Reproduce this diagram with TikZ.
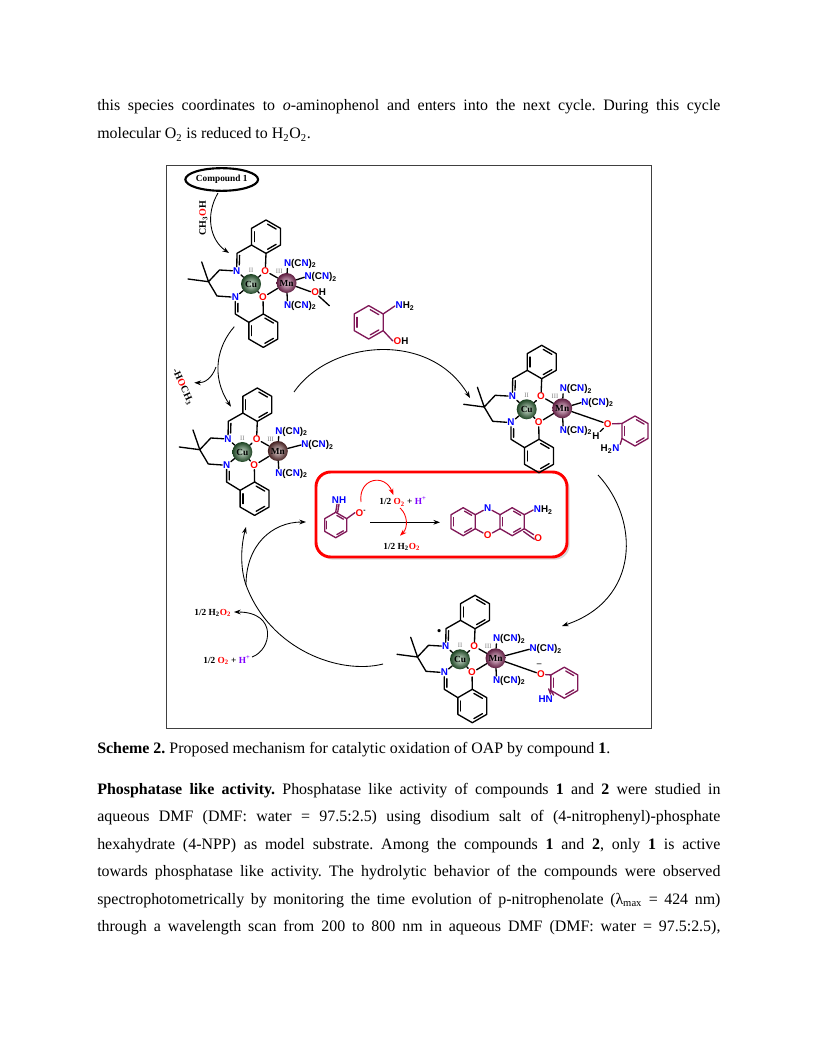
\documentclass[tikz,border=0pt]{standalone}
\usepackage{fontspec}
\setmainfont{Liberation Serif}
\setsansfont{Liberation Sans}
\usetikzlibrary{arrows.meta,calc,shadows,shapes.geometric}
\definecolor{nblue}{RGB}{0,0,255}
\definecolor{ored}{RGB}{255,0,0}
\definecolor{plum}{RGB}{128,24,88}
\definecolor{hviolet}{RGB}{128,0,255}
\definecolor{cugreen}{RGB}{50,120,60}
\definecolor{mnpink}{RGB}{170,50,115}
\definecolor{mnbrown}{RGB}{125,60,60}
\tikzset{
  bond/.style={line width=1pt,line join=round,line cap=round},
  curve/.style={line width=0.65pt,-{Stealth[length=5pt,width=3.6pt]}},
  redcurve/.style={curve,ored},
  atom/.style={font=\sffamily\bfseries\fontsize{7.4}{8}\selectfont,inner sep=0.4pt},
  ligand/.style={atom,anchor=west,inner sep=0pt},
  metal/.style={circle,minimum size=15bp,inner sep=0pt,font=\bfseries\fontsize{7}{8}\selectfont},
  oxid/.style={font=\fontsize{5}{6}\selectfont,text=gray,inner sep=0pt},
  reagent/.style={font=\bfseries\fontsize{7}{8}\selectfont,inner sep=0pt},
  bodyline/.style={anchor=base west,inner sep=0pt,font=\fontsize{12}{14}\selectfont\frenchspacing},
}
\newcommand{\nligand}{{\color{nblue}N}(C{\color{nblue}N})\textsubscript{2}}
\newcommand{\benz}[5]{%
  \foreach \a in {30,90,...,330}{\coordinate (#1\a) at ($(#2,#3)+(\a:#4)$);}
  \draw[bond,#5] (#130)--(#190)--(#1150)--(#1210)--(#1270)--(#1330)--cycle;
  \foreach \a in {270,30,150}{\draw[bond,#5] ($(#2,#3)+(\a+7:0.76*#4)$)--($(#2,#3)+(\a+53:0.76*#4)$);}
}
% Cu/Mn core, placed by the Cu centre
\newcommand{\core}[4]{%
  \begin{scope}[shift={(#2,#3)},name prefix=#1-]
    \node[metal,inner color=cugreen!25!white,outer color=cugreen!55!black] (cu) at (0,0) {Cu};
    \node[metal,inner color=#4!25!white,outer color=#4!55!black] (mn) at (35.5,-1) {Mn};
    \node[atom,text=ored] (o1) at (14.3,-13) {O};
    \node[atom,text=ored] (o2) at (12,13.3) {O};
    \node[atom,text=nblue] (n1) at (-14.3,-13) {N};
    \node[atom,text=nblue] (n2) at (-15.7,13.3) {N};
    \node[oxid] (two) at (0,-13.7) {II};
    \node[oxid] (three) at (28.3,-13) {III};
    \benz{u}{15}{-47.3}{16.7}{black}
    \benz{d}{12.3}{46.7}{16.7}{black}
    \coordinate (c1) at (-14,-30.7);
    \coordinate (c2) at (-15.7,30);
    \coordinate (c3) at (-31.5,-14);
    \coordinate (c4) at (-42.5,-2.3);
    \coordinate (c5) at (-34,12);
    \coordinate (me1) at (-49.3,-22);
    \coordinate (me2) at (-63,-5);
    \draw[bond] (u90)--(o1) (u150)--(c1)--(n1) (d270)--(o2) (d210)--(c2)--(n2);
    \draw[bond] ($(c1)+(2.6,2)$)--($(n1)+(2.6,-6)$) ($(c2)+(2.6,-2)$)--($(n2)+(2.6,6)$);
    \draw[bond] (n1)--(c3)--(c4)--(c5)--(n2) (c4)--(me1) (c4)--(me2);
    \draw[bond] (n1)--(cu) (n2)--(cu) (o1)--(cu) (o2)--(cu) (o1)--(mn) (o2)--(mn);
    \node[ligand] (lt) at (32.8,-20.3) {\nligand};
    \node[ligand] (lb) at (32.8,21.5) {\nligand};
    \draw[bond] (mn)--([xshift=2.7pt]lt.south west) (mn)--([xshift=2.7pt]lb.north west);
  \end{scope}
}
\begin{document}
\begin{tikzpicture}[x=0.75bp,y=-0.75bp]
  \useasboundingbox (0,0) rectangle (816,1056);
  % page text
  \node[bodyline] (line1) at (97,111) {\hbox to 467.4bp{this species coordinates to \textit{o}-aminophenol and enters into the next cycle. During this cycle}};
  \node[bodyline] (line2) at (97,139) {molecular O\textsubscript{2} is reduced to H\textsubscript{2}O\textsubscript{2}.};
  \node[bodyline] (caption) at (97,753) {\textbf{Scheme 2.} Proposed mechanism for catalytic oxidation of OAP by compound \textbf{1}.};
  \node[bodyline] (para1) at (97,794) {\hbox to 467.4bp{\textbf{Phosphatase like activity.} Phosphatase like activity of compounds \textbf{1} and \textbf{2} were studied in}};
  \node[bodyline] (para2) at (97,821.5) {\hbox to 467.4bp{aqueous DMF (DMF: water = 97.5:2.5) using disodium salt of (4-nitrophenyl)-phosphate}};
  \node[bodyline] (para3) at (97,849) {\hbox to 467.4bp{hexahydrate (4-NPP) as model substrate. Among the compounds \textbf{1} and \textbf{2}, only \textbf{1} is active}};
  \node[bodyline] (para4) at (97,876.5) {\hbox to 467.4bp{towards phosphatase like activity. The hydrolytic behavior of the compounds were observed}};
  \node[bodyline] (para5) at (97,904) {\hbox to 467.4bp{spectrophotometrically by monitoring the time evolution of p-nitrophenolate (λ\textsubscript{max} = 424 nm)}};
  \node[bodyline] (para6) at (97,931.5) {\hbox to 467.4bp{through a wavelength scan from 200 to 800 nm in aqueous DMF (DMF: water = 97.5:2.5),}};
  % frame and red box
  \draw[black!75,line width=0.6pt] (166,165) rectangle (651,728);
  \draw[ored,line width=2.2pt,rounded corners=11pt,fill=white,drop shadow={shadow xshift=2pt,shadow yshift=-2pt,fill=gray!60}] (316,472) rectangle (567,557);
  % four complexes
  \core{a}{251}{284}{mnpink}
  \core{b}{242.3}{452}{mnbrown}
  \core{c}{526.7}{409.3}{mnpink}
  \core{d}{460}{659.3}{mnpink}
  \node[ligand] (a-lr) at (304.3,277.3) {\nligand};
  \node[ligand] (b-lr) at (301,445) {\nligand};
  \node[ligand] (c-lr) at (581,402.7) {\nligand};
  \node[ligand] (d-lr) at (529.3,649.3) {\nligand};
  \foreach \m in {a,b,c,d}{\draw[bond] (\m-mn)--(\m-lr.west);}
  % bound methanol
  \node[atom] (meoh) at (318.7,291.7) {{\color{ored}O}H};
  \coordinate (meohc) at (329.3,305.7);
  \draw[bond] (a-mn)--(meoh.west) (meoh.south)--(meohc);
  % free aminophenol
  \benz{ap}{368.7}{322.3}{16.7}{plum}
  \node[atom] (apn) at (405,306) {{\color{nblue}N}H\textsubscript{2}};
  \node[atom] (apo) at (401,341) {{\color{ored}O}H};
  \draw[bond,plum] (ap330)--(apn.west) (ap30)--(apo.west);
  % bound aminophenol
  \node[atom,text=ored] (co) at (607.7,424) {O};
  \benz{cr}{635}{431}{15}{plum}
  \node[atom] (cn) at (610,449.3) {H\textsubscript{2}{\color{nblue}N}};
  \node[atom] (ch) at (596,435.7) {H};
  \draw[bond] (c-mn)--(co) (co)--(ch);
  \draw[bond,plum] (co)--(cr210) (cr150)--(cn.north east);
  % bound iminosemiquinone
  \node[atom,text=ored] (do) at (541,674.3) {O};
  \benz{dr}{564.3}{682.7}{15.5}{plum}
  \node[atom,text=nblue] (dn) at (545.7,699.3) {HN};
  \node[inner sep=0pt,font=\bfseries\fontsize{7}{8}\selectfont] (dm) at (539.3,665.5) {--};
  \node[inner sep=0pt,font=\fontsize{10}{10}\selectfont] (dot) at (439.3,633) {•};
  \draw[bond] (d-mn)--(do);
  \draw[bond,plum] (do)--(dr210) (dr150)--(dn.north east) ($(dr150)+(-2.2,-1.6)$)--($(dn.north east)+(-3,-1)$);
  % compound label
  \node[ellipse,draw,line width=1.6pt,minimum width=52bp,minimum height=17bp,inner sep=0pt,font=\bfseries\fontsize{7}{8}\selectfont] (cmpd) at (221.7,179.5) {Compound 1};
  \node[reagent,font=\bfseries\fontsize{7.5}{9}\selectfont,rotate=90] (meohlbl) at (203.3,218) {CH\textsubscript{3}{\color{ored}O}H};
  \node[reagent,font=\bfseries\fontsize{7.5}{9}\selectfont,rotate=-65] (lostlbl) at (182.7,387) {-H{\color{ored}O}CH\textsubscript{3}};
  % labels of the cycle
  \node[reagent] (cyh2o2) at (212.7,613) {1/2 H\textsubscript{2}{\color{ored}O\textsubscript{2}}};
  \node[reagent] (cyo2) at (227,660) {1/2 {\color{ored}O\textsubscript{2}} + {\color{hviolet}H\textsuperscript{+}}};
  % coordinates for the arrows
  \coordinate (s1) at (218,193);   \coordinate (e1) at (229,253);
  \coordinate (s2) at (234.3,326.7); \coordinate (e2) at (231,406.7);
  \coordinate (j2) at (216,367);   \coordinate (e3) at (194.3,382.7);
  \coordinate (s4) at (294,392);   \coordinate (e4) at (470,398);
  \coordinate (s5) at (598,475);   \coordinate (e5) at (562,626);
  \coordinate (s6) at (383,664);   \coordinate (j6) at (246,585);
  \coordinate (e6) at (246,527);   \coordinate (e7) at (306,522);
  \coordinate (s8) at (252,657);   \coordinate (e8) at (234,612);
  \draw[curve] (s1) .. controls (205,215) and (210,240) .. (e1);
  \draw[curve] (s2) .. controls (218,345) and (210,375) .. (e2);
  \draw[curve] (j2) .. controls (212,378) and (205,383) .. (e3);
  \draw[curve] (s4) .. controls (330,340) and (430,330) .. (e4);
  \draw[curve] (s5) .. controls (640,520) and (640,600) .. (e5);
  \draw[line width=0.65pt] (s6) .. controls (340,675) and (270,650) .. (j6);
  \draw[curve] (j6) .. controls (241,571) and (240,550) .. (e6);
  \draw[curve] (j6) .. controls (246,545) and (272,522) .. (e7);
  \draw[curve] (s8) .. controls (272,650) and (278,612) .. (e8);
  % inside the box: substrate
  \benz{si}{335.7}{525}{12.7}{plum}
  \node[atom,text=nblue] (sinh) at (339,500) {NH};
  \node[atom] (sio) at (361,512.7) {{\color{ored}O}\textsuperscript{-}};
  \draw[bond,plum] (si270)--($(sinh.south)+(-2,0)$) ($(si270)+(2,0)$)--($(sinh.south)+(0,0)$);
  \draw[bond,plum] (si330)--(sio.west);
  % inside the box: reaction
  \coordinate (rs) at (370,522.3);  \coordinate (re) at (440,522.3);
  \draw[curve] (rs)--(re);
  \node[reagent] (rxo2) at (403,501.7) {1/2 {\color{ored}O\textsubscript{2}} + {\color{hviolet}H\textsuperscript{+}}};
  \node[reagent] (rxh2o2) at (401.7,546.7) {1/2 H\textsubscript{2}{\color{ored}O\textsubscript{2}}};
  \coordinate (r1) at (361,502);   \coordinate (r2) at (393.3,495);
  \coordinate (r3) at (400,508);   \coordinate (r4) at (400,535.7);
  \draw[redcurve] (r1) .. controls (358,478) and (385,473) .. (r2);
  \draw[redcurve] (r3) .. controls (408,515) and (408,528) .. (r4);
  % inside the box: product
  \benz{pa}{463.2}{521.7}{14}{plum}
  \benz{pc}{512.2}{521.7}{14}{plum}
  \node[atom,text=nblue] (pn) at (487.7,508) {N};
  \node[atom,text=ored] (po) at (487.7,535.5) {O};
  \node[atom,text=ored] (pk) at (538.3,537.7) {O};
  \node[atom] (pnh) at (543.3,510) {{\color{nblue}N}H\textsubscript{2}};
  \draw[bond,plum] (pa330)--(pn)--(pc210) (pa30)--(po)--(pc150);
  \draw[bond,plum] (pc330)--(pnh.west) (pc30)--(pk) ($(pc30)+(-0.8,2.8)$)--($(pk)+(-4,1.5)$);
\end{tikzpicture}
\end{document}
